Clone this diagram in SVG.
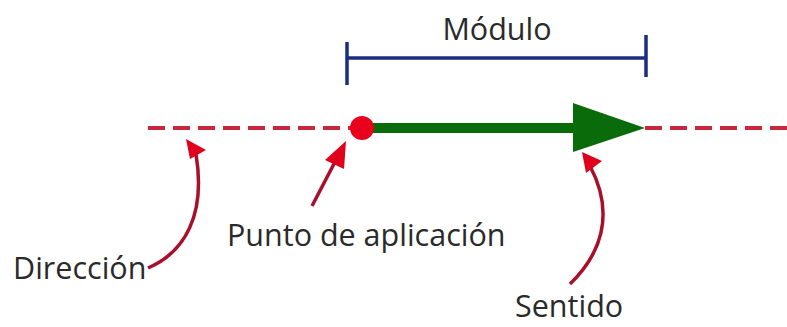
<svg xmlns="http://www.w3.org/2000/svg" width="787" height="327" viewBox="0 0 787 327">
<style>
.lbl{font-family:"Open Sans","Noto Sans",sans-serif;font-size:30.5px;fill:#2a2a2a}
.dash{stroke:#c8283c;stroke-width:3.8;stroke-dasharray:17 8;fill:none}
.pointer{stroke:#a8102a;stroke-width:3.5;fill:none}
.head{fill:#e0001c}
</style>
<rect width="787" height="327" fill="#ffffff"/>
<g id="direccion-linea">
<line class="dash" x1="148" y1="128" x2="352" y2="128"/>
<line class="dash" x1="645" y1="128" x2="787" y2="128"/>
</g>
<g id="vector">
<line x1="362" y1="128" x2="576" y2="128" stroke="#0a6b0a" stroke-width="10"/>
<polygon points="573,103 645,128 573,152" fill="#0a6b0a"/>
<circle cx="362" cy="128" r="12" fill="#e8001c"/>
</g>
<g id="modulo">
<line x1="347" y1="58" x2="646" y2="58" stroke="#1a2d80" stroke-width="3.5"/>
<line x1="347" y1="42" x2="347" y2="85" stroke="#1a2d80" stroke-width="3.5"/>
<line x1="646" y1="35" x2="646" y2="77" stroke="#1a2d80" stroke-width="3.5"/>
<text class="lbl" x="497" y="40" text-anchor="middle">Módulo</text>
</g>
<g id="connectors">
<path class="pointer" d="M148,268 C185,252 206,215 196,154"/>
<polygon class="head" points="186,139 206,150 190,159"/>
<path class="pointer" d="M312,206 L336,160"/>
<polygon class="head" points="346,141 344,169 325,160"/>
<path class="pointer" d="M570,284 C600,255 616,215 590,166"/>
<polygon class="head" points="582,152 602,161 586,173"/>
</g>
<g id="labels">
<text class="lbl" x="13" y="279">Dirección</text>
<text class="lbl" x="227" y="246">Punto de aplicación</text>
<text class="lbl" x="515" y="317">Sentido</text>
</g>
</svg>
